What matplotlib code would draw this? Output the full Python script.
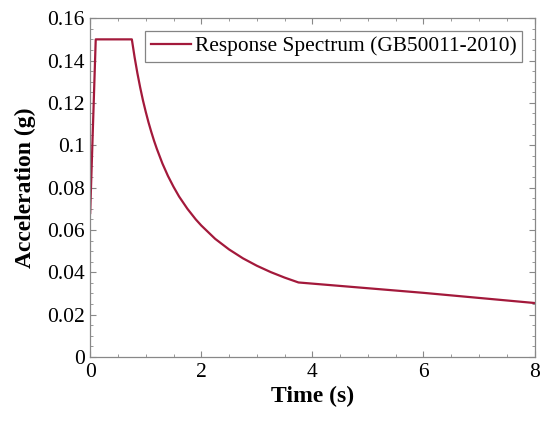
from matplotlib import pyplot as plt
from matplotlib.ticker import MultipleLocator

## DATA
period = [0.0, 0.1, 0.75, 0.8, 0.85, 0.9, 0.95, 1.0, 1.05, 1.1, 1.15, 1.2,
          1.3, 1.4, 1.5, 1.6, 1.75, 1.9, 2.0, 2.25, 2.5, 2.75, 3.0, 3.25,
          3.5, 3.75, 6.0, 8.0]
accel = [0.068, 0.150, 0.150, 0.1415, 0.134, 0.1273, 0.1212, 0.1158, 0.1108,
         0.1063, 0.1021, 0.0983, 0.0914, 0.0855, 0.0804, 0.0758, 0.0700,
         0.0650, 0.0621, 0.0558, 0.0508, 0.0466, 0.0431, 0.0401, 0.0375,
         0.0352, 0.0303, 0.0255]
series_label = "Response Spectrum (GB50011-2010)"

plt.rcParams['font.family'] = ['Liberation Serif', 'DejaVu Serif']

fig = plt.figure(figsize=(5.4, 4.23), dpi=100)
ax = fig.add_axes([0.167, 0.156, 0.823, 0.801])

ax.plot(period, accel, color='#A3193B', linewidth=1.6, label=series_label)

ax.set_xlim(0, 8)
ax.set_ylim(0, 0.16)
ax.xaxis.set_major_locator(MultipleLocator(2))
ax.xaxis.set_minor_locator(MultipleLocator(0.5))
ax.yaxis.set_minor_locator(MultipleLocator(0.005))
ax.set_yticks([0, 0.02, 0.04, 0.06, 0.08, 0.1, 0.12, 0.14, 0.16])
ax.set_yticklabels(["0", "0.02", "0.04", "0.06", "0.08", "0.1", "0.12", "0.14", "0.16"])

ax.tick_params(which='both', direction='in', top=True, right=True,
               color='#888888', labelsize=15.5, pad=4)
ax.tick_params(which='major', length=4, width=0.8)
ax.tick_params(which='minor', length=2.5, width=0.6)
for sp in ax.spines.values():
    sp.set_color('#888888')
    sp.set_linewidth(0.9)

ax.set_xlabel("Time (s)", fontsize=17, fontweight='bold', labelpad=3)
ax.set_ylabel("Acceleration (g)", fontsize=17, fontweight='bold', labelpad=8)

leg = ax.legend(loc='upper right', fontsize=15.4, frameon=True, fancybox=False,
                handlelength=1.9, handletextpad=0.15, borderpad=0.25,
                borderaxespad=0.6)
leg.get_frame().set_edgecolor('#666666')
leg.get_frame().set_linewidth(0.9)

fig.savefig("out.png", dpi=100)
